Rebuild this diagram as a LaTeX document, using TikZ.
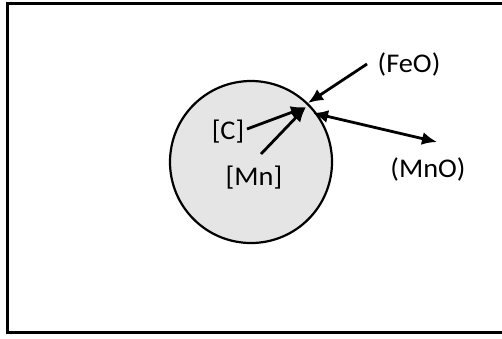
\documentclass[tikz,border=0pt]{standalone}
\usepackage{fontspec}
\setmainfont{Carlito}
\usetikzlibrary{arrows.meta}
\begin{document}
\begin{tikzpicture}[x=1pt,y=-1pt,
  lbl/.style={inner sep=0pt,font=\fontsize{27}{27}\selectfont, xscale=1.05},
  tipshape/.style={Latex[length=15pt,width=13pt]},
  arr/.style={line width=2.8pt,-{Latex[length=15pt,width=13pt]}},
  darr/.style={line width=2.8pt,{Latex[length=15pt,width=13pt]}-{Latex[length=15pt,width=13pt]}}]
\useasboundingbox (0,0) rectangle (502,338);
\clip (0,0) rectangle (502,338);
\draw[line width=3pt] (520,3.5) -- (7.5,3.5) -- (7.5,332) -- (520,332);
\node[circle,draw,line width=2.2pt,fill=black!10,minimum size=162pt,inner sep=0pt] (drop) at (251,162) {};
\node[lbl] (C) at (228,132) {[C]};
\node[lbl] (Mn) at (254,178) {[Mn]};
\node[lbl] (FeO) at (409,64) {(FeO)};
\node[lbl] (MnO) at (428,169) {(MnO)};
\coordinate (cs) at (247,129);
\coordinate (ms) at (261,154);
\coordinate (fs) at (367,64);
\coordinate (tip) at (306,107);
\coordinate (ftip) at (308,103);
\coordinate (ml) at (313,113);
\coordinate (mr) at (437,142);
\draw[arr] (cs) -- (tip);
\draw[arr] (ms) -- (tip);
\draw[arr] (fs) -- (ftip);
\draw[darr] (ml) -- (mr);
\end{tikzpicture}
\end{document}
